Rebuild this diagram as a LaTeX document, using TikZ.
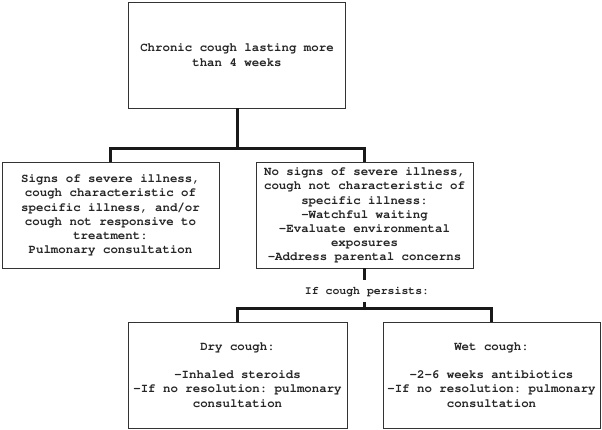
\documentclass[tikz,border=0pt]{standalone}
\usepackage[T1]{fontenc}
\newcommand{\cfont}{\fontencoding{T1}\fontfamily{pcr}\bfseries\selectfont\frenchspacing}
\begin{document}
\begin{tikzpicture}[x=1pt,y=-1pt,
  box/.style={draw=black!80, line width=0.9pt, align=center, inner sep=2pt,
    font=\cfont\fontsize{12.4}{14.2}\selectfont, text=black!85,
    minimum width=217pt, minimum height=106pt},
  conn/.style={line width=3pt, draw=black!90},
  lbl/.style={font=\cfont\fontsize{11.5}{13}\selectfont, text=black!85, inner sep=0pt, minimum height=22pt}]
\useasboundingbox (0,0) rectangle (602,430);

\node[box] (top) at (237,55) {Chronic cough lasting more\\than 4 weeks};
\node[box] (left) at (110.5,215) {Signs of severe illness,\\cough characteristic of\\specific illness, and/or\\cough not responsive to\\treatment:\\Pulmonary consultation};
\node[box] (right) at (364.5,215) {No signs of severe illness,\\cough not characteristic of\\specific illness:\\-Watchful waiting\\-Evaluate environmental\\exposures\\-Address parental concerns};
\node[lbl] (persist) at (367,291) {If cough persists:};
\node[box, minimum width=219pt] (bl) at (237.5,375) {Dry cough:\\[14.2pt]-Inhaled steroids\\-If no resolution: pulmonary\\consultation};
\node[box, minimum width=217pt] (br) at (491.5,375) {Wet cough:\\[14.2pt]-2-6 weeks antibiotics\\-If no resolution: pulmonary\\consultation};

\coordinate (j1) at (237,149);
\coordinate (j2) at (364.5,308.5);
\draw[conn] (top.south) -- (j1);
\draw[conn] (left.north) |- (j1) -| (right.north);
\draw[conn] (right.south) -- (right.south |- persist.north);
\draw[conn] (right.south |- persist.south) -- (j2);
\draw[conn] (bl.north) |- (j2) -| (br.north);
\end{tikzpicture}
\end{document}
